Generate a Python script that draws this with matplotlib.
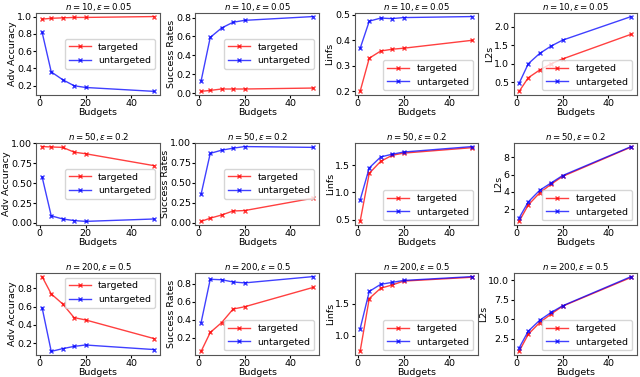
import matplotlib
matplotlib.use('Agg')
import matplotlib.pyplot as plt

budgets = [1, 5, 10, 15, 20, 50]

# row titles
titles = [r'$n = 10, \epsilon = 0.05$', r'$n = 50, \epsilon = 0.2$', r'$n = 200, \epsilon = 0.5$']
ylabels = ['Adv Accuracy', 'Success Rates', 'Linfs', 'L2s']

# n=10, eps=0.05
acc_t_10 = [0.97, 0.98, 0.985, 0.99, 0.99, 1.0]
acc_u_10 = [0.82, 0.36, 0.27, 0.20, 0.18, 0.135]
sr_t_10 = [0.02, 0.03, 0.045, 0.045, 0.045, 0.055]
sr_u_10 = [0.13, 0.59, 0.69, 0.75, 0.77, 0.81]
linf_t_10 = [0.20, 0.33, 0.358, 0.365, 0.369, 0.40]
linf_u_10 = [0.368, 0.475, 0.487, 0.485, 0.489, 0.493]
l2_t_10 = [0.25, 0.62, 0.83, 1.0, 1.13, 1.80]
l2_u_10 = [0.47, 1.0, 1.28, 1.48, 1.64, 2.28]

# n=50, eps=0.2
acc_t_50 = [0.96, 0.955, 0.95, 0.89, 0.87, 0.72]
acc_u_50 = [0.58, 0.09, 0.05, 0.03, 0.02, 0.05]
sr_t_50 = [0.02, 0.06, 0.10, 0.15, 0.155, 0.31]
sr_u_50 = [0.36, 0.87, 0.91, 0.935, 0.955, 0.945]
linf_t_50 = [0.47, 1.35, 1.57, 1.68, 1.72, 1.82]
linf_u_50 = [0.86, 1.45, 1.65, 1.70, 1.74, 1.84]
l2_t_50 = [0.6, 2.5, 3.9, 4.9, 5.8, 9.2]
l2_u_50 = [1.0, 2.85, 4.2, 5.05, 5.9, 9.25]

# n=200, eps=0.5
acc_t_200 = [0.93, 0.74, 0.63, 0.48, 0.455, 0.25]
acc_u_200 = [0.59, 0.11, 0.14, 0.165, 0.18, 0.13]
sr_t_200 = [0.05, 0.26, 0.37, 0.52, 0.545, 0.76]
sr_u_200 = [0.37, 0.85, 0.845, 0.82, 0.81, 0.88]
linf_t_200 = [0.76, 1.58, 1.74, 1.79, 1.85, 1.91]
linf_u_200 = [1.11, 1.69, 1.80, 1.83, 1.86, 1.92]
l2_t_200 = [0.9, 3.1, 4.6, 5.7, 6.7, 10.4]
l2_u_200 = [1.35, 3.5, 4.9, 5.9, 6.75, 10.5]

rows = [
    [(acc_t_10, acc_u_10), (sr_t_10, sr_u_10), (linf_t_10, linf_u_10), (l2_t_10, l2_u_10)],
    [(acc_t_50, acc_u_50), (sr_t_50, sr_u_50), (linf_t_50, linf_u_50), (l2_t_50, l2_u_50)],
    [(acc_t_200, acc_u_200), (sr_t_200, sr_u_200), (linf_t_200, linf_u_200), (l2_t_200, l2_u_200)],
]
yticks = [
    [[0.2, 0.4, 0.6, 0.8, 1.0], [0.0, 0.2, 0.4, 0.6, 0.8], [0.2, 0.3, 0.4, 0.5], [0.5, 1.0, 1.5, 2.0]],
    [[0.0, 0.25, 0.5, 0.75, 1.0], [0.0, 0.25, 0.5, 0.75, 1.0], [0.5, 1.0, 1.5], [2, 4, 6, 8]],
    [[0.2, 0.4, 0.6, 0.8], [0.2, 0.4, 0.6, 0.8], [1.0, 1.5], [2.5, 5.0, 7.5, 10.0]],
]
legend_locs = [
    ['center right', 'center right', 'lower right', 'lower right'],
    ['center right', 'center right', 'lower right', 'lower right'],
    ['upper right', 'lower right', 'lower right', 'lower right'],
]

fig, axes = plt.subplots(3, 4, figsize=(6.4, 3.77), dpi=100)
fig.subplots_adjust(left=0.057, right=0.995, top=0.966, bottom=0.058, wspace=0.29, hspace=0.58)

for i in range(3):
    for j in range(4):
        ax = axes[i][j]
        t, u = rows[i][j]
        ax.plot(budgets, t, color='red', marker='x', markersize=3, lw=1, alpha=0.75, label='targeted')
        ax.plot(budgets, u, color='blue', marker='x', markersize=3, lw=1, alpha=0.75, label='untargeted')
        ax.set_title(titles[i], fontsize=6.2, pad=2)
        ax.set_xlabel('Budgets', fontsize=6.8, labelpad=0)
        ax.set_ylabel(ylabels[j], fontsize=6.8, labelpad=0.5)
        ax.set_xticks([0, 20, 40])
        ax.set_yticks(yticks[i][j])
        ax.tick_params(labelsize=6.8, pad=1, length=2)
        for s in ax.spines.values():
            s.set_color('#555555')
        ax.legend(loc=legend_locs[i][j], fontsize=6.8, handlelength=2.3)

fig.savefig('out.png')
